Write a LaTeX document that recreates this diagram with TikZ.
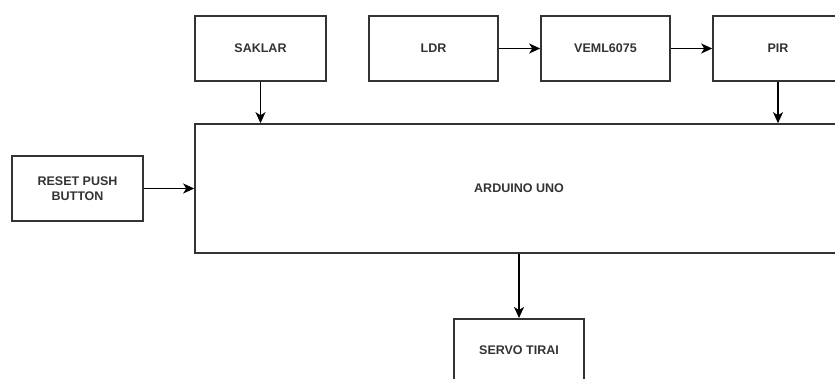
\documentclass[tikz,border=0pt]{standalone}
\usepackage{fontspec}
\setmainfont{Liberation Sans}
\usetikzlibrary{arrows.meta}
\definecolor{txt}{HTML}{333333}
\definecolor{ln}{HTML}{333333}
\begin{document}
\begin{tikzpicture}[x=1pt,y=-1pt,
  blk/.style={draw=ln,line width=1.6pt,fill=white,inner sep=0pt,
    font=\fontsize{12.5}{15}\selectfont\bfseries,text=txt,align=center},
  conn/.style={draw=black,line width=1.6pt,-{Stealth[length=11pt,width=10pt,inset=3pt]}}]
\useasboundingbox (0,0) rectangle (835,378);
\clip (0,0) rectangle (835,378);
\node[blk,minimum width=131pt,minimum height=65pt] (saklar) at (260.5,48.5) {SAKLAR};
\node[blk,minimum width=129pt,minimum height=65pt] (ldr) at (433.5,48.5) {LDR};
\node[blk,minimum width=129pt,minimum height=65pt] (veml) at (605.5,48.5) {VEML6075};
\node[blk,minimum width=130pt,minimum height=65pt] (pir) at (778,48.5) {PIR};
\node[blk,minimum width=648pt,minimum height=129pt] (ard) at (519,188.5) {ARDUINO UNO};
\node[blk,minimum width=131pt,minimum height=65pt] (reset) at (77.5,188.5) {RESET PUSH\\BUTTON};
\node[blk,minimum width=130pt,minimum height=70pt,anchor=north] (servo) at (519,318) {};
\node[font=\fontsize{12.5}{15}\selectfont\bfseries,text=txt] (servotxt) at (519,350) {SERVO TIRAI};
\draw[conn] (saklar.south) -- (saklar.south |- ard.north);
\draw[conn] (pir.south) -- (pir.south |- ard.north);
\draw[conn] (ldr.east) -- (veml.west);
\draw[conn] (veml.east) -- (pir.west);
\draw[conn] (reset.east) -- (reset.east -| ard.west);
\draw[conn] (ard.south -| servo.north) -- (servo.north);
\end{tikzpicture}
\end{document}
